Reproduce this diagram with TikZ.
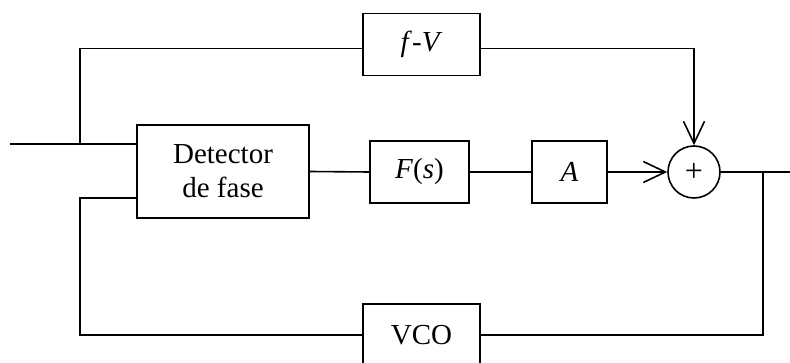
\documentclass[tikz,border=0pt]{standalone}
\usepackage{fontspec}
\setmainfont{Liberation Serif}
\usetikzlibrary{arrows.meta}
\begin{document}
\begin{tikzpicture}[x=1pt,y=-1pt,
  line width=1.6pt,
  blk/.style={draw, line width=1.8pt, rectangle, inner sep=0pt, font=\fontsize{29}{34}\selectfont, align=center},
  sumc/.style={draw, line width=1.6pt, circle, minimum size=52pt, inner sep=0pt},
  arr/.style={-{Straight Barb[length=22pt,width=21pt,line width=1.6pt]}}
]
\useasboundingbox (0,0) rectangle (790,363);
\clip (0,0) rectangle (790,363);
\node[blk, minimum width=172pt, minimum height=93pt] (det) at (223,171.5) {Detector\\de fase};
\node[blk, minimum width=117pt, minimum height=62pt] (fv) at (421.5,44.5) {\textit{f}-\textit{V}};
\node[blk, minimum width=99pt, minimum height=62pt] (fs) at (419.5,172) {\textit{F}(\textit{s})};
\node[blk, minimum width=75pt, minimum height=62pt] (amp) at (569.5,172) {\textit{A}};
\node[sumc] (sum) at (694,172) {};
\node[font=\fontsize{32}{32}\selectfont, inner sep=0pt] at (sum.center) {+};
\node[blk, minimum width=117pt, minimum height=62pt] (vco) at (421.5,335) {VCO};
\coordinate (in) at (10,144);
\coordinate (br) at (80,144);
\coordinate (out) at (790,172);
\coordinate (ob) at (763,172);
\draw (in) -- (det.west |- in);
\draw (br) |- (fv.west |- 0,48.5);
\draw[arr] (fv.east |- 0,48.5) -| (sum.north);
\draw (det.east) -- (fs.west);
\draw (fs.east) -- (amp.west);
\draw[arr] (amp.east) -- (sum.west);
\draw (sum.east) -- (out);
\draw (ob) |- (vco.east);
\draw (vco.west) -| (80,198) -- (det.west |- 0,198);
\end{tikzpicture}
\end{document}
